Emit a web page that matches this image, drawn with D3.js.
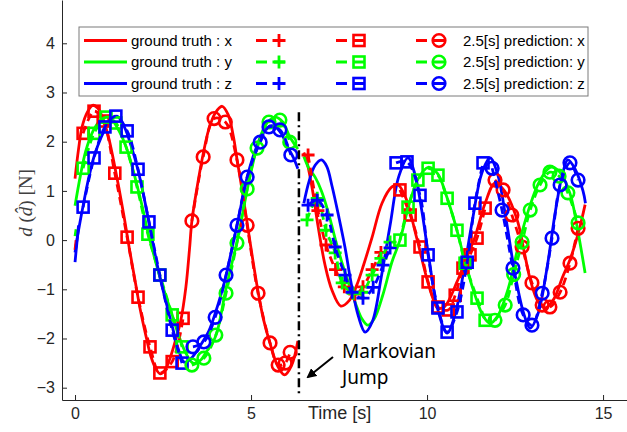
<!DOCTYPE html>
<html>
<head>
<meta charset="utf-8">
<script src="https://cdn.jsdelivr.net/npm/d3@7"></script>
<style>
  body { margin: 0; background: #fff; }
  text { font-family: "Liberation Sans", Arial, sans-serif; }
</style>
</head>
<body>
<div id="chart"></div>
<script>
// data: [time s, value N], null = gap
var gtX = [[0,1.25],[0.1,1.85],[0.2,2.3],[0.35,2.6],[0.5,2.74],[0.65,2.68],[0.8,2.45],[0.95,2.1],[1.1,1.6],[1.25,1.05],[1.4,0.45],[1.55,-0.2],[1.7,-0.8],[1.85,-1.4],[2.0,-1.9],[2.15,-2.35],[2.3,-2.62],[2.42,-2.72],[2.55,-2.65],[2.7,-2.4],[2.85,-2.05],[3.0,-1.65],[3.15,-0.95],[3.25,-0.2],[3.32,0.39],[3.45,1.0],[3.64,1.75],[3.8,2.25],[3.98,2.58],[4.18,2.72],[4.35,2.55],[4.5,2.1],[4.6,1.65],[4.75,1.0],[4.9,0.3],[5.05,-0.4],[5.2,-1.05],[5.35,-1.6],[5.54,-2.1],[5.75,-2.55],[5.95,-2.74],[6.15,-2.55],[6.33,-2.05],
  null,
  [6.5,1.78],[6.6,1.55],[6.75,1.0],[6.9,0.3],[7.1,-0.5],[7.3,-1.02],[7.55,-1.34],[7.8,-1.22],[8.0,-0.92],[8.2,-0.5],[8.44,0.06],[8.72,0.75],[9.0,1.08],[9.18,1.12],[9.4,0.85],[9.7,0.06],[10.0,-0.8],[10.15,-1.15],[10.3,-1.38],[10.5,-1.35],[10.85,-0.85],[11.1,-0.4],[11.36,0.06],[11.65,0.75],[11.93,1.16],[12.2,1.0],[12.56,0.41],[12.75,-0.2],[12.93,-0.8],[13.15,-1.25],[13.35,-1.38],[13.6,-1.2],[13.85,-0.75],[14.06,-0.4],[14.3,0.15],[14.49,0.72]];
var gtY = [[0,0.7],[0.15,1.3],[0.3,1.8],[0.5,2.2],[0.7,2.42],[0.88,2.5],[1.05,2.44],[1.25,2.22],[1.45,1.9],[1.6,1.55],[1.76,1.12],[1.92,0.65],[2.07,0.16],[2.25,-0.33],[2.41,-0.75],[2.6,-1.18],[2.76,-1.52],[2.95,-1.95],[3.15,-2.3],[3.35,-2.5],[3.55,-2.45],[3.75,-2.25],[3.9,-2.1],[4.03,-1.88],[4.15,-1.5],[4.26,-1.08],[4.43,-0.55],[4.6,-0.04],[4.75,0.5],[4.89,1.02],[5.05,1.55],[5.2,1.97],[5.35,2.25],[5.5,2.42],[5.7,2.5],[5.9,2.4],[6.1,2.1],[6.33,1.85],
  null,
  [6.5,1.7],[6.65,1.45],[6.82,1.28],[7.0,1.0],[7.2,0.55],[7.4,0.0],[7.6,-0.5],[7.81,-0.95],[8.0,-1.35],[8.15,-1.6],[8.32,-1.73],[8.5,-1.6],[8.75,-1.1],[9.0,-0.45],[9.23,0.0],[9.5,0.75],[9.75,1.25],[10.03,1.48],[10.3,1.35],[10.55,0.9],[10.85,0.2],[11.1,-0.5],[11.4,-1.2],[11.6,-1.55],[11.79,-1.69],[12.0,-1.55],[12.3,-1.0],[12.6,-0.1],[12.9,0.65],[13.2,1.2],[13.5,1.48],[13.75,1.4],[14.06,0.95],[14.28,0.2],[14.49,-0.67]];
var gtZ = [[0,-0.25],[0.1,0.2],[0.23,0.7],[0.4,1.3],[0.55,1.72],[0.75,2.1],[0.95,2.38],[1.19,2.52],[1.4,2.3],[1.6,1.9],[1.79,1.42],[1.95,0.9],[2.1,0.37],[2.25,-0.2],[2.41,-0.75],[2.6,-1.3],[2.76,-1.75],[2.95,-2.25],[3.1,-2.48],[3.3,-2.4],[3.55,-2.15],[3.8,-1.85],[4.0,-1.45],[4.15,-1.1],[4.29,-0.72],[4.45,-0.2],[4.6,0.3],[4.75,0.82],[4.89,1.28],[5.05,1.68],[5.2,1.97],[5.37,2.2],[5.54,2.32],[5.7,2.3],[5.87,2.15],[6.05,1.88],[6.2,1.68],[6.33,1.45],
  null,
  [6.5,0.75],[6.65,1.2],[6.82,1.52],[7.0,1.63],[7.15,1.5],[7.3,1.1],[7.5,0.45],[7.67,-0.15],[7.85,-0.9],[8.05,-1.55],[8.24,-1.87],[8.45,-1.65],[8.7,-0.75],[8.95,0.3],[9.2,1.3],[9.46,1.67],[9.65,1.35],[9.85,0.6],[10.05,-0.35],[10.3,-1.4],[10.57,-1.89],[10.8,-1.5],[11.05,-0.6],[11.3,0.45],[11.55,1.35],[11.79,1.67],[12.0,1.35],[12.25,0.4],[12.5,-0.7],[12.75,-1.5],[12.93,-1.79],[13.15,-1.5],[13.4,-0.6],[13.65,0.6],[13.85,1.35],[14.0,1.63],[14.2,1.45],[14.43,1.0],[14.5,0.75]];

// short prediction bits at t = 0 (no markers)
var stubX = [[0,-0.2],[0.03,0.0]];
var stubY = [[0,0.08],[0.03,0.22]];
var stubZ = [[0,-0.45],[0.1,0.3]];

// "+" predictions
var plusX = [[6.62,1.73],[6.9,0.6],[7.13,-0.1],[7.4,-0.6],[7.65,-0.95],[7.95,-1.1],[8.18,-0.95],[8.44,-0.6],[8.69,-0.25]];
var plusY = [[6.59,0.41],[6.88,0.85],[7.13,0.2],[7.39,-0.26],[7.59,-0.87],[7.9,-1.08],[8.15,-1.06],[8.44,-0.71],[8.69,-0.37],[8.95,-0.04]];
var plusZ = [[6.62,0.71],[6.88,0.81],[7.16,0.51],[7.39,-0.14],[7.67,-0.71],[7.87,-1.06],[8.18,-1.18],[8.47,-0.96],[8.75,-0.51],[8.95,-0.16]];

// square predictions
var squareX = [[0.23,2.17],[0.54,2.62],[0.8,2.42],[1.13,1.36],[1.48,0.06],[1.79,-1.16],[2.13,-2.17],[2.41,-2.7],[2.76,-2.47],[3.07,-1.59],
  null,
  [9.23,1.02],[9.52,0.51],[9.8,-0.14],[10.03,-0.85],[10.31,-1.36],[10.6,-1.42],[10.8,-1.12],[11.02,-0.57],[11.22,-0.3],[11.42,0.04],[11.65,0.65]];
var squareY = [[0.23,1.46],[0.54,2.17],[0.88,2.5],[1.16,2.38],[1.45,1.89],[1.76,1.08],[2.07,0.12],[2.41,-0.71],[2.76,-1.52],[3.04,-2.17],
  null,
  [9.23,0.0],[9.46,0.67],[9.74,1.22],[10.03,1.46],[10.31,1.32],[10.57,0.85],[10.85,0.2],[11.08,-0.47],[11.42,-1.18],[11.65,-1.63]];
var squareZ = [[0.23,0.67],[0.54,1.67],[0.85,2.3],[1.16,2.52],[1.48,2.22],[1.79,1.44],[2.1,0.37],[2.41,-0.71],[2.76,-1.83],[3.04,-2.5],
  null,
  [9.12,1.57],[9.43,1.59],[9.8,0.91],[10.03,-0.3],[10.31,-1.38],[10.57,-1.87],[10.85,-1.46],[11.14,-0.45],[11.36,0.75],[11.59,1.57]];

// circle predictions (2.5 s)
var circleX = [[3.32,0.39],[3.64,1.69],[3.95,2.47],[4.27,2.4],[4.6,1.63],[4.89,0.3],[5.2,-1.08],[5.54,-2.09],[5.77,-2.54],[5.97,-2.5],[6.11,-2.28],
  null,
  [11.93,1.22],[12.16,1.02],[12.41,0.51],[12.7,-0.14],[12.98,-0.87],[13.27,-1.32],[13.49,-1.36],[13.78,-1.06],[14.06,-0.47],[14.29,0.24]];
var circleY = [[3.32,-2.54],[3.66,-2.4],[4.0,-1.93],[4.29,-1.08],[4.6,-0.06],[4.89,1.04],[5.17,1.87],[5.51,2.4],[5.82,2.44],[6.1,1.99],
  null,
  [11.93,-1.63],[12.22,-1.32],[12.46,-0.7],[12.7,-0.04],[12.93,0.61],[13.21,1.12],[13.49,1.38],[13.75,1.3],[14.0,0.96],[14.29,0.35]];
var circleZ = [[3.35,-2.17],[3.66,-2.07],[3.98,-1.57],[4.29,-0.71],[4.6,0.3],[4.89,1.28],[5.26,1.99],[5.51,2.3],[5.82,2.24],[6.13,1.73],
  null,
  [11.85,1.46],[12.13,0.61],[12.44,-0.57],[12.73,-1.52],[12.98,-1.73],[13.27,-1.08],[13.55,0.04],[13.78,1.12],[14.06,1.57],[14.29,1.22]];

var jumpTime = 6.36;
var jumpRange = [2.6, -3.15];

var xTicks = [0, 5, 10, 15];
var yTicks = [-3, -2, -1, 0, 1, 2, 3, 4];
var gtLabels = ["ground truth : x", "ground truth : y", "ground truth : z"];
var predLabels = ["2.5[s] prediction: x", "2.5[s] prediction: y", "2.5[s] prediction: z"];
var colors = ["#ff0000", "#00ff00", "#0000ff"];

var series = [
  {gt: gtX, stub: stubX, plus: plusX, square: squareX, circle: circleX},
  {gt: gtY, stub: stubY, plus: plusY, square: squareY, circle: circleY},
  {gt: gtZ, stub: stubZ, plus: plusZ, square: squareZ, circle: circleZ}
];

var svgWidth = 627;
var svgHeight = 432;

var svg = d3.select("#chart")
  .append("svg")
  .attr("width", svgWidth)
  .attr("height", svgHeight);

var xScale = d3.scaleLinear().domain([-0.37, 15.68]).range([62, 627]);
var yScale = d3.scaleLinear().domain([-3.25, 4.88]).range([400, 0]);

// axes, ticks pointing inward
var xAxis = d3.axisBottom(xScale).tickValues(xTicks).tickSize(-5).tickSizeOuter(0).tickPadding(8);
var yAxis = d3.axisLeft(yScale).tickValues(yTicks).tickSize(-5).tickSizeOuter(0).tickPadding(7);

var gx = svg.append("g")
  .attr("transform", "translate(0, 400)")
  .call(xAxis);
var gy = svg.append("g")
  .attr("transform", "translate(62, 0)")
  .call(yAxis);

[gx, gy].forEach(function(g) {
  g.selectAll("path, line").attr("stroke", "#262626");
  g.selectAll("text").attr("fill", "#262626").style("font-size", "16px")
    .style("font-family", "'Liberation Sans', Arial, sans-serif");
});

svg.append("text")
  .attr("x", 308)
  .attr("y", 419)
  .attr("fill", "#262626")
  .style("font-size", "18px")
  .text("Time [s]");

var ylab = svg.append("text")
  .attr("transform", "translate(32, 203) rotate(-90)")
  .attr("text-anchor", "middle")
  .attr("fill", "#404040")
  .style("font-family", "'Liberation Serif', 'DejaVu Serif', serif")
  .style("font-size", "19px");
ylab.append("tspan").style("font-style", "italic").text("d");
ylab.append("tspan").text(" (");
ylab.append("tspan").style("font-style", "italic").text("d\u0302");
ylab.append("tspan").text(") [N]");

var line = d3.line()
  .defined(d => d !== null)
  .x(d => xScale(d[0]))
  .y(d => yScale(d[1]))
  .curve(d3.curveCatmullRom);

var plot = svg.append("g");

function drawMarker(g, kind, x, y, color) {
  if (kind === "plus") {
    g.append("path")
      .attr("d", `M${x - 6.5},${y}H${x + 6.5}M${x},${y - 6.5}V${y + 6.5}`)
      .attr("stroke", color).attr("stroke-width", 2.8).attr("fill", "none");
  } else if (kind === "square") {
    g.append("rect")
      .attr("x", x - 5.5).attr("y", y - 5.5).attr("width", 11).attr("height", 11)
      .attr("stroke", color).attr("stroke-width", 2.6).attr("fill", "none");
  } else {
    g.append("circle")
      .attr("cx", x).attr("cy", y).attr("r", 6.3)
      .attr("stroke", color).attr("stroke-width", 2.6).attr("fill", "none");
  }
}

// ground truth
series.forEach(function(s, i) {
  plot.append("path")
    .attr("d", line(s.gt))
    .attr("fill", "none")
    .attr("stroke", colors[i])
    .attr("stroke-width", 2.8);
});

// predictions: dashed line + markers
["plus", "square", "circle"].forEach(function(kind) {
  series.forEach(function(s, i) {
    if (kind === "plus") {
      plot.append("path")
        .attr("d", line(s.stub))
        .attr("fill", "none").attr("stroke", colors[i]).attr("stroke-width", 2.8);
    }
    plot.append("path")
      .attr("d", line(s[kind]))
      .attr("fill", "none")
      .attr("stroke", colors[i])
      .attr("stroke-width", 2.8)
      .attr("stroke-dasharray", "8,5");
    s[kind].filter(d => d !== null).forEach(function(d) {
      drawMarker(plot, kind, xScale(d[0]), yScale(d[1]), colors[i]);
    });
  });
});

// markovian jump
svg.append("line")
  .attr("x1", xScale(jumpTime)).attr("x2", xScale(jumpTime))
  .attr("y1", yScale(jumpRange[0])).attr("y2", yScale(jumpRange[1]))
  .attr("stroke", "#000").attr("stroke-width", 2.5)
  .attr("stroke-dasharray", "9,4,2,4");

svg.append("defs").append("marker")
  .attr("id", "arrow")
  .attr("viewBox", "0 0 10 10")
  .attr("refX", 8).attr("refY", 5)
  .attr("markerWidth", 5).attr("markerHeight", 5)
  .attr("orient", "auto")
  .append("path").attr("d", "M0,0L10,5L0,10z").attr("fill", "#000");

svg.append("line")
  .attr("x1", 333).attr("y1", 357)
  .attr("x2", 308).attr("y2", 377)
  .attr("stroke", "#000").attr("stroke-width", 2)
  .attr("marker-end", "url(#arrow)");

svg.append("text").attr("x", 342).attr("y", 358)
  .style("font-family", "'Noto Sans', 'Open Sans', sans-serif")
  .style("font-size", "19px").text("Markovian");
svg.append("text").attr("x", 342).attr("y", 384)
  .style("font-family", "'Noto Sans', 'Open Sans', sans-serif")
  .style("font-size", "19px").text("Jump");

// legend
var legend = svg.append("g");
legend.append("rect")
  .attr("x", 79).attr("y", 27).attr("width", 509).attr("height", 69)
  .attr("fill", "#fff").attr("stroke", "#7a7a7a").attr("stroke-width", 1);

var rowY = [40.5, 62, 83.5];
rowY.forEach(function(y, i) {
  legend.append("line").attr("x1", 84).attr("x2", 127).attr("y1", y).attr("y2", y)
    .attr("stroke", colors[i]).attr("stroke-width", 2.8);
  legend.append("text").attr("x", 131).attr("y", y + 5)
    .style("font-size", "15px").text(gtLabels[i]);

  [["plus", 256, 279], ["square", 336, 359], ["circle", 416, 439]].forEach(function(m) {
    legend.append("line").attr("x1", m[1]).attr("x2", m[1] + 33).attr("y1", y).attr("y2", y)
      .attr("stroke", colors[i]).attr("stroke-width", 2.8).attr("stroke-dasharray", "11,7");
    drawMarker(legend, m[0], m[2], y, colors[i]);
  });

  legend.append("text").attr("x", 463).attr("y", y + 5)
    .style("font-size", "15px").text(predLabels[i]);
});
</script>
</body>
</html>
